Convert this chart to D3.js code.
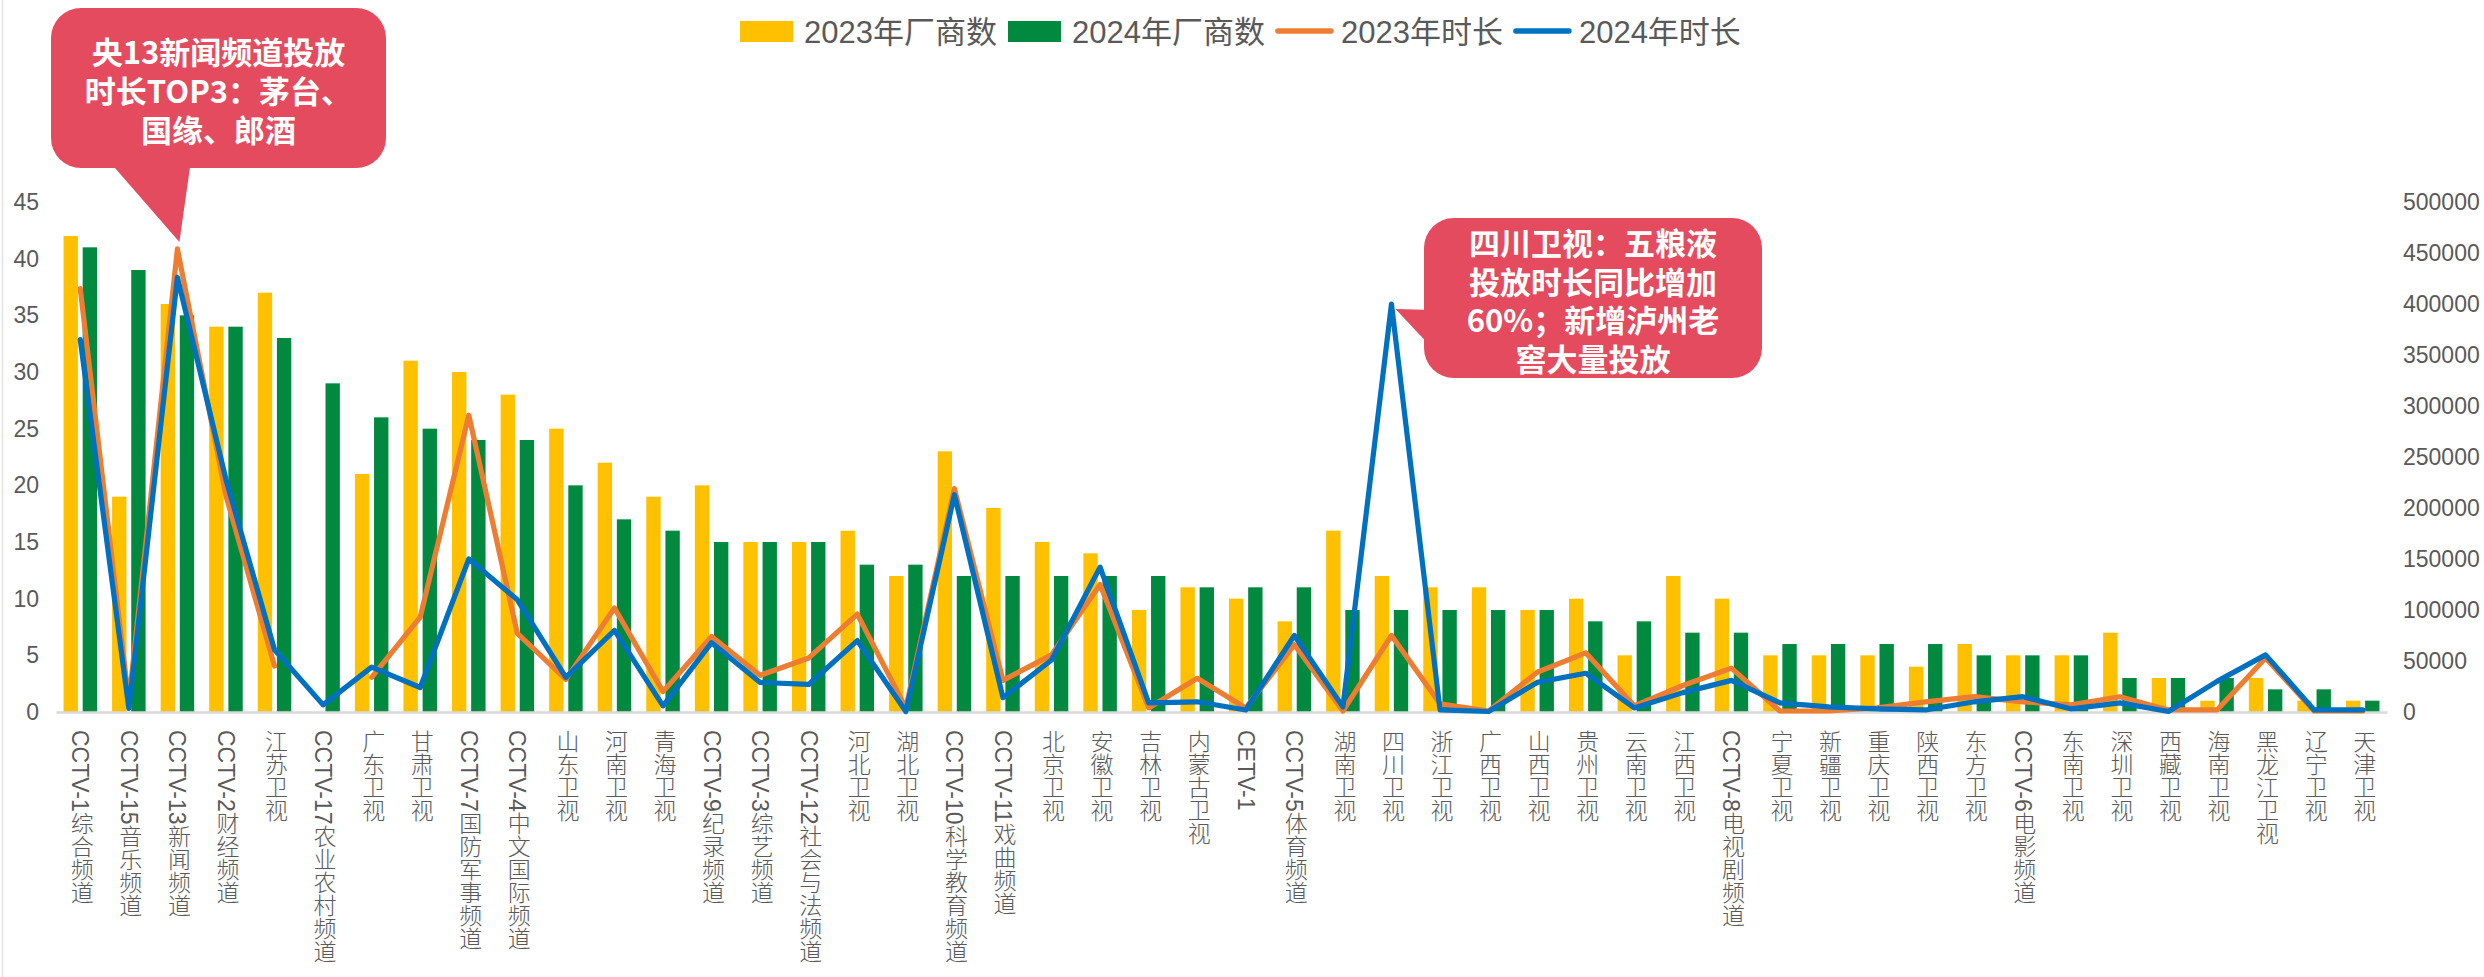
<!DOCTYPE html>
<html>
<head>
<meta charset="utf-8">
<script src="https://cdn.jsdelivr.net/npm/d3@7"></script>
<style>
  html, body { margin: 0; padding: 0; background: #fff; }
  svg { display: block; }
  .tick text { fill: #595959; }
</style>
</head>
<body>
<div id="chart"></div>
<script>
const categories = [
  'CCTV-1综合频道', 'CCTV-15音乐频道', 'CCTV-13新闻频道', 'CCTV-2财经频道', '江苏卫视',
  'CCTV-17农业农村频道', '广东卫视', '甘肃卫视', 'CCTV-7国防军事频道', 'CCTV-4中文国际频道',
  '山东卫视', '河南卫视', '青海卫视', 'CCTV-9纪录频道', 'CCTV-3综艺频道',
  'CCTV-12社会与法频道', '河北卫视', '湖北卫视', 'CCTV-10科学教育频道', 'CCTV-11戏曲频道',
  '北京卫视', '安徽卫视', '吉林卫视', '内蒙古卫视', 'CETV-1',
  'CCTV-5体育频道', '湖南卫视', '四川卫视', '浙江卫视', '广西卫视',
  '山西卫视', '贵州卫视', '云南卫视', '江西卫视', 'CCTV-8电视剧频道',
  '宁夏卫视', '新疆卫视', '重庆卫视', '陕西卫视', '东方卫视',
  'CCTV-6电影频道', '东南卫视', '深圳卫视', '西藏卫视', '海南卫视',
  '黑龙江卫视', '辽宁卫视', '天津卫视'
];

const makers2023 = [42, 19, 36, 34, 37, 0, 21, 31, 30, 28, 25, 22, 19, 20, 15, 15, 16, 12, 23, 18,
  15, 14, 9, 11, 10, 8, 16, 12, 11, 11, 9, 10, 5, 12, 10, 5, 5, 5, 4, 6, 5, 5, 7, 3, 1, 3, 1, 1];
const makers2024 = [41, 39, 35, 34, 33, 29, 26, 25, 24, 24, 20, 17, 16, 15, 15, 15, 13, 13, 12, 12,
  12, 12, 12, 11, 11, 11, 9, 9, 9, 9, 9, 8, 8, 7, 7, 6, 6, 6, 6, 5, 5, 5, 3, 3, 3, 2, 2, 1];

const duration2023 = [415000, 10000, 454000, 212000, 45000, null, 34000, 93000, 291000, 77000,
  32000, 102000, 20000, 74000, 36000, 53000, 96000, 4000, 219000, 31000,
  56000, 125000, 4000, 33000, 4000, 66000, 1000, 75000, 8000, 1000,
  39000, 58000, 6000, 26000, 43000, 1000, 1000, 4000, 10000, 15000,
  10000, 7000, 15000, 2000, 2000, 53000, 1000, 1000];
const duration2024 = [365000, 3500, 426000, 228000, 61000, 7000, 44000, 24000, 150000, 110000,
  34000, 80000, 6000, 68000, 29000, 27000, 70000, 500, 213000, 14000,
  51000, 142000, 9000, 10000, 2000, 75000, 5000, 400000, 2000, 500,
  29000, 38000, 4000, 19000, 31000, 9000, 5000, 3000, 2000, 10000,
  15000, 3000, 9000, 500, 30000, 56000, 2000, 2000];

const leftTicks = [0, 5, 10, 15, 20, 25, 30, 35, 40, 45];
const rightTicks = [0, 50000, 100000, 150000, 200000, 250000, 300000, 350000, 400000, 450000, 500000];

const legendItems = [
  { name: '2023年厂商数', type: 'bar', color: '#FFC000' },
  { name: '2024年厂商数', type: 'bar', color: '#00893F' },
  { name: '2023年时长', type: 'line', color: '#ED7D31' },
  { name: '2024年时长', type: 'line', color: '#0070C0' }
];

const notes = [
  { lines: ['央13新闻频道投放', '时长TOP3：茅台、', '国缘、郎酒'] },
  { lines: ['四川卫视：五粮液', '投放时长同比增加', '60%；新增泸州老', '窖大量投放'] }
];

const W = 2484, H = 977;
const plot = { left: 56, right: 2387, top: 202, bottom: 712 };
const tickFont = '"Liberation Sans", Arial, "Noto Sans CJK SC", sans-serif';
const noteColor = '#E54B5E';

const svg = d3.select('#chart')
  .append('svg')
  .attr('width', W)
  .attr('height', H)
  .style('font-family', tickFont);

// faint frame edge on the left
svg.append('line')
  .attr('x1', 2.5).attr('x2', 2.5)
  .attr('y1', 0).attr('y2', H)
  .attr('stroke', '#e3e3e3')
  .attr('stroke-width', 1.5);

const x0 = d3.scaleBand()
  .domain(categories)
  .range([plot.left, plot.right])
  .paddingInner(0.31)
  .paddingOuter(0.155);

const x1 = d3.scaleBand()
  .domain([0, 1])
  .range([0, x0.bandwidth()])
  .paddingInner(0.25);

const yL = d3.scaleLinear().domain([0, 45]).range([plot.bottom, plot.top]);
const yR = d3.scaleLinear().domain([0, 500000]).range([plot.bottom, plot.top]);

const cx = i => x0(categories[i]) + x0.bandwidth() / 2;

// left axis
svg.append('g')
  .attr('transform', `translate(${plot.left},0)`)
  .call(d3.axisLeft(yL).tickValues(leftTicks).tickSize(0).tickPadding(17))
  .call(g => g.select('.domain').remove())
  .selectAll('text')
  .style('font-size', '23px');

// right axis
svg.append('g')
  .attr('transform', `translate(${plot.right},0)`)
  .call(d3.axisRight(yR).tickValues(rightTicks).tickSize(0).tickPadding(16).tickFormat(d3.format('d')))
  .call(g => g.select('.domain').remove())
  .selectAll('text')
  .style('font-size', '23px');

// bars
const barSeries = [makers2023, makers2024];
barSeries.forEach((series, s) => {
  svg.append('g')
    .selectAll('rect')
    .data(series)
    .enter()
    .append('rect')
    .attr('x', (d, i) => x0(categories[i]) + x1(s))
    .attr('width', x1.bandwidth())
    .attr('y', d => yL(d))
    .attr('height', d => plot.bottom - yL(d))
    .attr('fill', legendItems[s].color);
});

// category axis
const xAxis = svg.append('g')
  .attr('transform', `translate(0,${plot.bottom})`)
  .call(d3.axisBottom(x0).tickSize(0).tickSizeOuter(0));

xAxis.select('.domain')
  .attr('stroke', '#D9D9D9')
  .attr('stroke-width', 2.5);

xAxis.selectAll('text')
  .attr('y', 18)
  .attr('dy', null)
  .attr('text-anchor', 'start')
  .style('writing-mode', 'vertical-rl')
  .style('font-size', '23px')
  .style('font-family', '"Liberation Sans", Arial, "Noto Sans CJK SC", sans-serif')
  .style('font-weight', 300);

// lines
const lineFn = d3.line()
  .defined(d => d != null)
  .x((d, i) => cx(i))
  .y(d => yR(d));

[duration2023, duration2024].forEach((series, s) => {
  svg.append('path')
    .attr('d', lineFn(series))
    .attr('fill', 'none')
    .attr('stroke', legendItems[s + 2].color)
    .attr('stroke-width', 5.2)
    .attr('stroke-linejoin', 'round')
    .attr('stroke-linecap', 'round');
});

// legend
const legend = svg.append('g').attr('transform', 'translate(740,32)');
let lx = 0;
legendItems.forEach(item => {
  const g = legend.append('g').attr('transform', `translate(${lx},0)`);
  let tx;
  if (item.type === 'bar') {
    g.append('rect').attr('x', 0).attr('y', -11).attr('width', 53).attr('height', 21).attr('fill', item.color);
    tx = 64;
  } else {
    g.append('line').attr('x1', 2).attr('x2', 55).attr('y1', -1).attr('y2', -1)
      .attr('stroke', item.color).attr('stroke-width', 5.5).attr('stroke-linecap', 'round');
    tx = 65;
  }
  const t = g.append('text')
    .attr('x', tx)
    .attr('y', 0)
    .attr('dominant-baseline', 'central')
    .style('font-size', '31px')
    .attr('fill', '#595959')
    .text(item.name);
  lx += tx + t.node().getComputedTextLength() + 11;
});

// callouts
const drawNote = (note, box, pointer, lineCenters) => {
  const g = svg.append('g');
  g.append('rect')
    .attr('x', box.x).attr('y', box.y)
    .attr('width', box.w).attr('height', box.h)
    .attr('rx', 30)
    .attr('fill', noteColor);
  g.append('path')
    .attr('d', d3.line()(pointer) + 'Z')
    .attr('fill', noteColor);
  g.selectAll('text')
    .data(note.lines)
    .enter()
    .append('text')
    .attr('x', box.x + box.w / 2)
    .attr('y', (d, i) => lineCenters[i])
    .attr('text-anchor', 'middle')
    .attr('dominant-baseline', 'central')
    .attr('fill', '#fff')
    .style('font-family', '"Noto Sans CJK SC", sans-serif')
    .style('font-weight', 700)
    .style('font-size', '31px')
    .text(d => d);
};

const tip1 = [cx(2) + 2, yR(duration2023[2]) - 7];
drawNote(notes[0], { x: 51, y: 8, w: 335, h: 160 },
  [[108, 160], [191, 160], tip1], [50, 89, 128]);

const tip2 = [cx(27) + 4, yR(duration2024[27]) + 5];
drawNote(notes[1], { x: 1424, y: 218, w: 338, h: 160 },
  [[1434, 310], tip2, [1434, 350]], [241, 280, 318.5, 357]);
</script>
</body>
</html>
